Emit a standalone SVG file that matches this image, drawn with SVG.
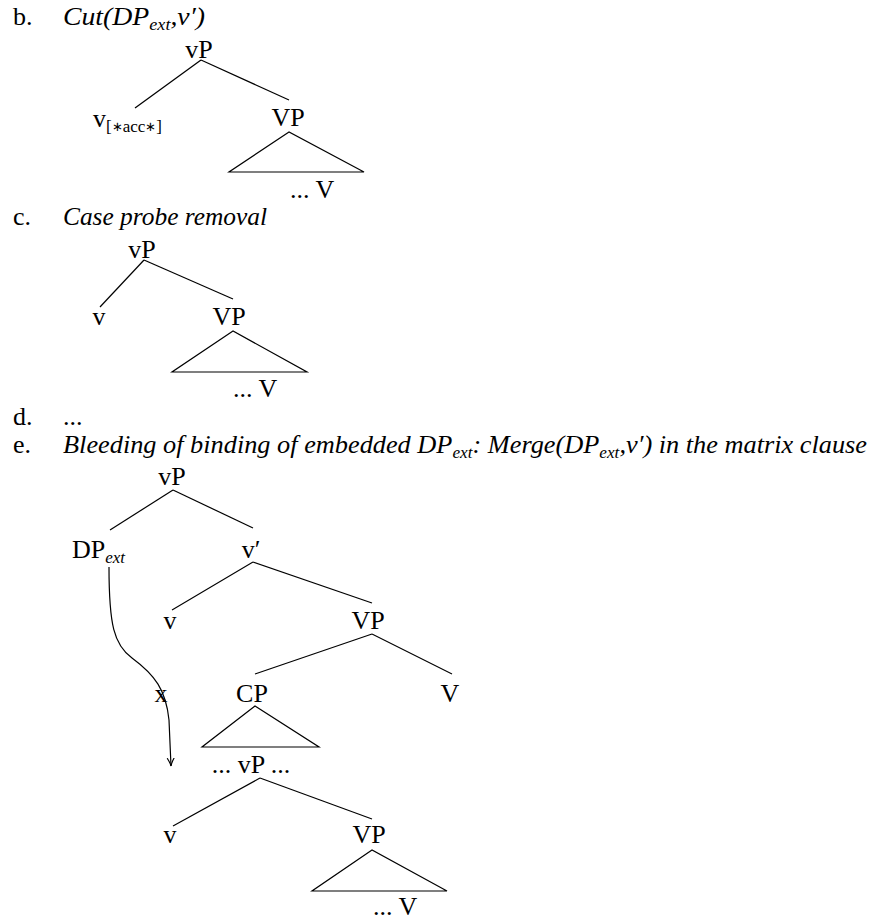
<svg xmlns="http://www.w3.org/2000/svg" width="874" height="920" viewBox="0 0 874 920">
<style>
text{font-family:"Liberation Serif","Times New Roman",serif;font-size:26px;fill:#000}
.it{font-style:italic}
.m{text-anchor:middle}
.sub{font-size:17px}
.ast{font-size:13px}
.e line,.e polygon,.e path{stroke:#000;stroke-width:1.2;fill:none}
</style>
<defs>
<marker id="ah" markerWidth="10" markerHeight="10" refX="8" refY="5" orient="auto" markerUnits="userSpaceOnUse">
<path d="M0,1.5 Q4,4 8,5 Q4,6 0,8.5" fill="none" stroke="#000" stroke-width="1.1"/>
</marker>
</defs>
<rect width="874" height="920" fill="#fff"/>

<!-- b -->
<g id="b-label"><text x="13" y="25">b.</text><text class="it" x="63" y="25" textLength="142" lengthAdjust="spacingAndGlyphs">Cut(DP<tspan class="sub" dy="5">ext</tspan><tspan dy="-5">,v′)</tspan></text></g>
<g id="b-vP"><text class="m" x="199" y="58">vP</text></g>
<g id="b-v"><text x="93" y="127">v<tspan class="sub" dy="5">[<tspan class="ast" dy="-1">∗</tspan><tspan dy="1">acc</tspan><tspan class="ast" dy="-1">∗</tspan><tspan dy="1">]</tspan></tspan></text></g>
<g id="b-VP"><text class="m" x="288" y="126">VP</text></g>
<g id="b-tri"><text x="290" y="198">... V</text></g>

<!-- c -->
<g id="c-label"><text x="13" y="225">c.</text><text class="it" x="63" y="225" textLength="204" lengthAdjust="spacingAndGlyphs">Case probe removal</text></g>
<g id="c-vP"><text class="m" x="142" y="258">vP</text></g>
<g id="c-v"><text class="m" x="99" y="325">v</text></g>
<g id="c-VP"><text class="m" x="229" y="325">VP</text></g>
<g id="c-tri"><text x="233" y="397">... V</text></g>

<!-- d -->
<g id="d-label"><text x="13" y="425">d.</text><text x="63" y="425">...</text></g>

<!-- e -->
<g id="e-label"><text x="13" y="453">e.</text><text class="it" x="63" y="453" textLength="804" lengthAdjust="spacingAndGlyphs">Bleeding of binding of embedded DP<tspan class="sub" dy="5">ext</tspan><tspan dy="-5">: Merge(DP</tspan><tspan class="sub" dy="5">ext</tspan><tspan dy="-5">,v′) in the matrix clause</tspan></text></g>
<g id="e-vP"><text class="m" x="172" y="485">vP</text></g>
<g id="e-DPext"><text x="72" y="558">DP<tspan class="sub it" dy="5">ext</tspan></text></g>
<g id="e-vbar"><text class="m" x="251" y="558">v′</text></g>
<g id="e-v1"><text class="m" x="170" y="629">v</text></g>
<g id="e-VP1"><text class="m" x="368" y="629">VP</text></g>
<g id="e-x"><text class="m" x="161" y="702">x</text></g>
<g id="e-CP"><text class="m" x="252" y="702">CP</text></g>
<g id="e-V"><text class="m" x="450" y="702">V</text></g>
<g id="e-vP2"><text class="m" x="251" y="773">... vP ...</text></g>
<g id="e-v2"><text class="m" x="170" y="843">v</text></g>
<g id="e-VP2"><text class="m" x="369" y="843">VP</text></g>
<g id="e-tri2"><text x="373" y="915">... V</text></g>

<g id="connectors" class="e">
<line x1="201" y1="60" x2="135" y2="108"/>
<line x1="201" y1="60" x2="289" y2="100"/>
<polygon points="289,132 229,172 364,172"/>
<line x1="144" y1="260" x2="100" y2="307"/>
<line x1="144" y1="260" x2="233" y2="299"/>
<polygon points="233,331 172,372 307,372"/>
<line x1="173" y1="490" x2="110" y2="530"/>
<line x1="173" y1="490" x2="253" y2="528"/>
<line x1="253" y1="562" x2="172" y2="610"/>
<line x1="253" y1="562" x2="372" y2="603"/>
<line x1="372" y1="634" x2="255" y2="674"/>
<line x1="372" y1="634" x2="452" y2="674"/>
<polygon points="255,706 202,747 319,747"/>
<line x1="260" y1="778" x2="173" y2="826"/>
<line x1="260" y1="778" x2="372" y2="819"/>
<polygon points="372,850 312,891 447,891"/>
<path d="M109,567 C109,625 114,645 132,658 C155,675 166,690 169,720 L171,766" marker-end="url(#ah)"/>
</g>
</svg>
